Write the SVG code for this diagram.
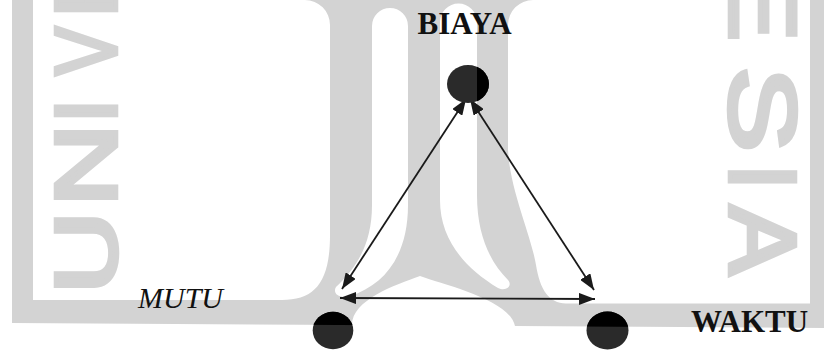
<svg xmlns="http://www.w3.org/2000/svg" width="824" height="350" viewBox="0 0 824 350">
  <defs>
    <style>
      .wm { fill: #d3d3d3; fill-rule: evenodd; }
      .wm-text { font-family: "Liberation Sans", Arial, sans-serif; fill: #d3d3d3; stroke: #d3d3d3; stroke-width: 4.5; stroke-linejoin: miter; }
      .edge { fill: none; stroke: #1a1a1a; stroke-width: 1.8; marker-start: url(#arrow); marker-end: url(#arrow); }
      .dot { fill: #2a2a2a; }
      .dot-deep { fill: #000000; }
      .label { font-family: "Liberation Serif", "Times New Roman", serif; font-size: 31px; font-weight: bold; fill: #111111; }
      .label-it { font-family: "Liberation Serif", "Times New Roman", serif; font-size: 30px; font-style: italic; fill: #111111; }
    </style>
    <marker id="arrow" viewBox="0 0 16 12" refX="16" refY="6" markerWidth="16" markerHeight="12" markerUnits="userSpaceOnUse" orient="auto-start-reverse">
      <path d="M0,0 L16,6 L0,12 Z" fill="#1a1a1a"/>
    </marker>
    <!-- solid parts of the background emblem, where the dots print pure black -->
    <clipPath id="wm-solid">
      <rect x="477" y="0" width="31" height="150"/>
      <polygon points="12,300 824,303.5 824,328 12,323"/>
    </clipPath>
  </defs>

  <rect width="824" height="350" fill="#ffffff"/>

  <!-- background emblem: frame, three pillars with arch, lettering -->
  <g id="watermark">
    <path class="wm" d="
      M12,-10 H824 V328 L515,326 C510,300 445,285 420,276 C395,285 352,300 352,325 L12,323 Z
      M33,-10 H305 V0 A25,25 0 0 1 330,25 V235 C330,282 315,300 282,300 H33 Z
      M810,-10 V303.5 H566 C549,303 540,290 536,265 C531,235 510,190 508,150 V25 A25,25 0 0 1 533,0 V-10 Z
      M372,26 A18,18 0 0 1 408,26 V205 C408,255 385,285 350,296 C340,299 332,294 336,287 C356,268 372,245 372,205 Z
      M440,22 A18.5,18.5 0 0 1 477,22 V195 C477,235 490,262 508,280 C513,286 506,292 498,288 C465,268 440,240 440,200 Z"/>
    <!-- lettering runs up the left side and down the right side -->
    <g transform="translate(116,0) rotate(-90)">
      <text class="wm-text" font-size="87" y="0"><tspan x="-293.8" textLength="82.5" lengthAdjust="spacingAndGlyphs">U</tspan><tspan x="-206.5" textLength="82.9" lengthAdjust="spacingAndGlyphs">N</tspan><tspan x="-123.1">I</tspan><tspan x="-75" textLength="48" lengthAdjust="spacingAndGlyphs">V</tspan></text>
      <text class="wm-text" font-size="87" x="-17.7" y="0" textLength="66.7" lengthAdjust="spacingAndGlyphs">E</text>
    </g>
    <g transform="translate(730,0) rotate(90)">
      <text class="wm-text" font-size="94" x="-31.1" y="0" textLength="72.1" lengthAdjust="spacingAndGlyphs">E</text>
      <text class="wm-text" font-size="94" y="0"><tspan x="66.5" textLength="85.6" lengthAdjust="spacingAndGlyphs">S</tspan><tspan x="163.8">I</tspan><tspan x="205.4" textLength="69.2" lengthAdjust="spacingAndGlyphs">A</tspan></text>
    </g>
  </g>

  <!-- two-headed arrows between the three constraints -->
  <g id="connectors">
    <line class="edge" x1="466" y1="99" x2="342" y2="289"/>
    <line class="edge" x1="470" y1="99" x2="594" y2="290"/>
    <line class="edge" x1="340" y1="298" x2="595" y2="299"/>
  </g>

  <g id="node-biaya">
    <ellipse class="dot" cx="468" cy="84" rx="21" ry="19"/>
    <ellipse class="dot-deep" cx="468" cy="84" rx="21" ry="19" clip-path="url(#wm-solid)"/>
    <text class="label" x="417.5" y="34">BIAYA</text>
  </g>

  <g id="node-mutu">
    <ellipse class="dot" cx="333" cy="330.5" rx="20.3" ry="18.8"/>
    <ellipse class="dot-deep" cx="333" cy="330.5" rx="20.3" ry="18.8" clip-path="url(#wm-solid)"/>
    <text class="label-it" x="138" y="308">MUTU</text>
  </g>

  <g id="node-waktu">
    <ellipse class="dot" cx="607.5" cy="330.5" rx="21" ry="19"/>
    <ellipse class="dot-deep" cx="607.5" cy="330.5" rx="21" ry="19" clip-path="url(#wm-solid)"/>
    <text class="label" x="691" y="332">WAKTU</text>
  </g>
</svg>
